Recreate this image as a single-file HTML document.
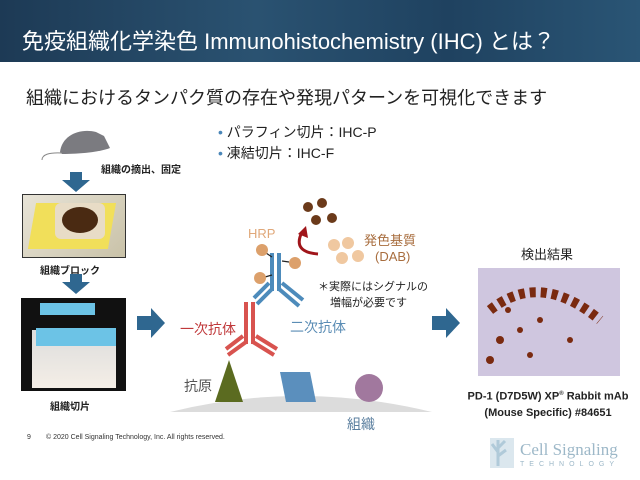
<!DOCTYPE html>
<html><head><meta charset="utf-8"><style>
body{margin:0;width:640px;height:480px;overflow:hidden;background:#fff;font-family:"Liberation Sans","Noto Sans CJK JP",sans-serif;position:relative}
.t{position:absolute;white-space:nowrap}
</style></head><body>
<div style="position:absolute;left:0;top:0;width:640px;height:62px;background:linear-gradient(90deg,#1d3a55,#2a5271 40%,#1f4260 70%,#2a5575)"></div>
<div class="t" style="left:22px;top:24px;font-size:22px;color:#fff">免疫組織化学染色 Immunohistochemistry (IHC) とは？</div>
<div class="t" style="left:26px;top:84px;font-size:18px;color:#222">組織におけるタンパク質の存在や発現パターンを可視化できます</div>
<div class="t" style="left:218px;top:122px;font-size:14px;color:#222"><span style="color:#4a86b8">•</span> パラフィン切片：IHC-P</div>
<div class="t" style="left:218px;top:143px;font-size:14px;color:#222"><span style="color:#4a86b8">•</span> 凍結切片：IHC-F</div>
<div class="t" style="left:101px;top:161px;font-size:10px;font-weight:bold;color:#222">組織の摘出、固定</div>
<div style="position:absolute;left:22px;top:194px;width:104px;height:64px;background:linear-gradient(135deg,#e8e4d8,#c9c2a8);border:1px solid #333;box-sizing:border-box"></div>
<div style="position:absolute;left:32px;top:203px;width:80px;height:46px;background:#f1df5a;transform:skewX(-10deg)"></div>
<div style="position:absolute;left:55px;top:203px;width:50px;height:36px;background:#e8dcc6;border-radius:6px"></div>
<div style="position:absolute;left:62px;top:207px;width:36px;height:26px;border-radius:50%;background:#4a2a12"></div>
<div class="t" style="left:40px;top:262px;font-size:10px;font-weight:bold;color:#222">組織ブロック</div>
<div style="position:absolute;left:21px;top:298px;width:105px;height:93px;background:#111"></div>
<div style="position:absolute;left:32px;top:330px;width:84px;height:58px;background:linear-gradient(#ddd,#f4eee6)"></div>
<div style="position:absolute;left:40px;top:303px;width:55px;height:12px;background:#6cc3e6"></div>
<div style="position:absolute;left:36px;top:328px;width:80px;height:18px;background:#6cc3e6"></div>
<div class="t" style="left:50px;top:398px;font-size:10px;font-weight:bold;color:#222">組織切片</div>
<svg width="640" height="480" style="position:absolute;left:0;top:0">
<path d="M60 152 C62 135 80 128 96 132 L104 136 L110 148 C100 152 80 154 62 154 Z" fill="#7b7b80"/>
<path d="M62 153 Q42 152 42 160" stroke="#888" fill="none"/>
<g fill="#2f6790">
<path d="M70 172h12v8h8l-14 12-14-12h8z"/>
<path d="M70 274h12v8h8l-14 12-14-12h8z"/>
<path d="M137 316h14v-8l14 15-14 15v-8h-14z"/>
<path d="M432 316h14v-8l14 15-14 15v-8h-14z"/>
</g>
<path d="M170 412 Q300 380 432 412 Z" fill="#dcdcdc"/>
<polygon points="215,402 229,360 243,402" fill="#5b6b20"/>
<polygon points="280,372 310,372 316,402 286,402" fill="#5b8fbd"/>
<circle cx="369" cy="388" r="14" fill="#a1789e"/>
<g stroke="#d8534f" stroke-width="4" fill="none">
<path d="M246 302V344M253 302V344"/>
<path d="M246 342L228 355M243 336L226 349"/>
<path d="M253 342L274 355M256 336L277 349"/>
</g>
<g stroke="#4d8bbb" stroke-width="4" fill="none">
<path d="M272 253V291M279 253V291"/>
<path d="M272 289L257 304M269 283L254 298"/>
<path d="M279 289L299 306M282 283L303 300"/>
</g>
<g stroke="#222" stroke-width="1.2"><path d="M266 253L272 257M289 262L282 261M265 277L272 275"/></g>
<g fill="#dca06b"><circle cx="262" cy="250" r="6"/><circle cx="295" cy="263" r="6"/><circle cx="260" cy="278" r="6"/></g>
<g fill="#6b3a1a"><circle cx="308" cy="207" r="5"/><circle cx="322" cy="203" r="5"/><circle cx="316" cy="220" r="5"/><circle cx="332" cy="218" r="5"/></g>
<g fill="#f0c8a0"><circle cx="334" cy="245" r="6"/><circle cx="348" cy="243" r="6"/><circle cx="342" cy="258" r="6"/><circle cx="358" cy="256" r="6"/></g>
<path d="M302 232 Q292 252 318 254" stroke="#a0151a" stroke-width="3" fill="none"/>
<polygon points="298,234 306,226 308,238" fill="#a0151a"/>
<rect x="478" y="268" width="142" height="108" fill="#cfc6df"/>
<path d="M490 310 Q540 270 600 320" stroke="#7a2a10" stroke-width="10" stroke-dasharray="6 5" fill="none"/>
<g fill="#7a2a10"><circle cx="500" cy="340" r="4"/><circle cx="520" cy="330" r="3"/><circle cx="490" cy="360" r="4"/><circle cx="570" cy="340" r="3"/><circle cx="540" cy="320" r="3"/><circle cx="508" cy="310" r="3"/><circle cx="530" cy="355" r="3"/></g>
<g stroke="#a8c4d4" stroke-width="3" fill="none"><path d="M498 466V440M498 452L492 444M498 448L505 441M498 456L506 450"/></g>
<rect x="490" y="438" width="24" height="30" fill="#b7d0de" opacity=".5"/>
</svg>
<div class="t" style="left:180px;top:319px;font-size:14px;color:#c0393b">一次抗体</div>
<div class="t" style="left:290px;top:317px;font-size:14px;color:#5b8db5">二次抗体</div>
<div class="t" style="left:184px;top:376px;font-size:14px;color:#555">抗原</div>
<div class="t" style="left:347px;top:414px;font-size:14px;color:#5b7f9f">組織</div>
<div class="t" style="left:248px;top:226px;font-size:13px;color:#e0a87a">HRP</div>
<div class="t" style="left:364px;top:230px;font-size:13px;color:#a86d3e">発色基質</div>
<div class="t" style="left:375px;top:249px;font-size:13px;color:#a86d3e">(DAB)</div>
<div class="t" style="left:318px;top:278px;font-size:11px;color:#222">＊実際にはシグナルの</div>
<div class="t" style="left:330px;top:294px;font-size:11px;color:#222">増幅が必要です</div>
<div class="t" style="left:521px;top:244px;font-size:13px;color:#222">検出結果</div>
<div class="t" style="left:464px;top:386px;width:168px;text-align:center;font-size:11px;font-weight:bold;color:#222;line-height:16px">PD-1 (D7D5W) XP<sup style="font-size:6px">®</sup> Rabbit mAb<br>(Mouse Specific) #84651</div>
<div class="t" style="left:520px;top:440px;font-size:17px;font-family:'Liberation Serif',serif;color:#9db8c8">Cell Signaling</div>
<div class="t" style="left:520px;top:461px;font-size:7px;letter-spacing:5px;color:#9db8c8">TECHNOLOGY</div>
<div class="t" style="left:27px;top:434px;font-size:7px;color:#333">9</div>
<div class="t" style="left:46px;top:434px;font-size:7px;color:#333">© 2020 Cell Signaling Technology, Inc. All rights reserved.</div>
</body></html>
